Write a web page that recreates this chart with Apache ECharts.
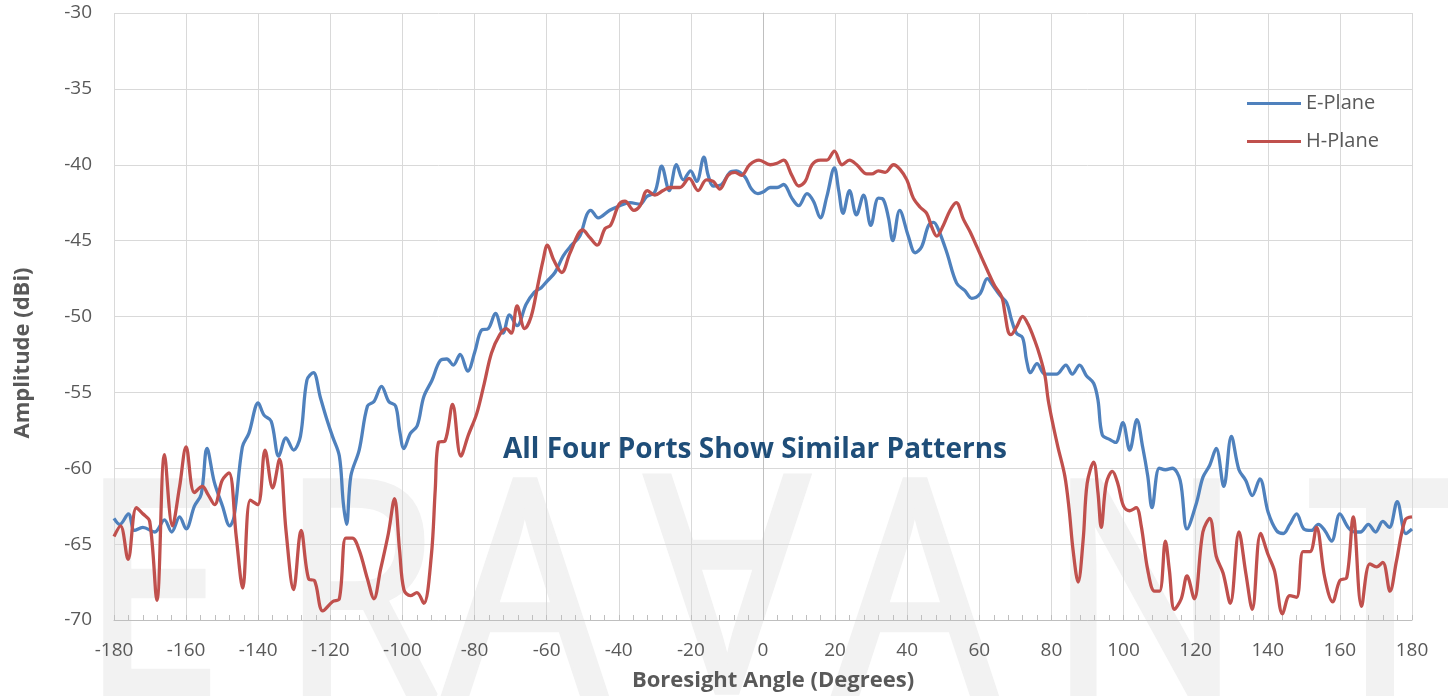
<!DOCTYPE html>
<html>
<head>
<meta charset="utf-8">
<script src="https://cdn.jsdelivr.net/npm/echarts@6/dist/echarts.min.js"></script>
<style>
html,body{margin:0;padding:0;background:#fff;}
#chart{width:1448px;height:696px;}
</style>
</head>
<body>
<div id="chart"></div>
<script>
// ---- data ----
var seriesNames = ['E-Plane', 'H-Plane'];
var xTicks = [-180,-160,-140,-120,-100,-80,-60,-40,-20,0,20,40,60,80,100,120,140,160,180];
var yTicks = [-70,-65,-60,-55,-50,-45,-40,-35,-30];

var ePlaneAngle = [-180,-178.4,-176,-174.3,-172,-168.7,-166,-164,-161.8,-160,-157.7,-155.8,-154.2,-152.2,-149.9,-147.9,-146.7,-144.4,-142.6,-140,-138.4,-136.4,-134.3,-132.3,-130.2,-128.3,-126.5,-124.7,-122.8,-121.2,-119.4,-117.5,-116.4,-115.5,-114.3,-112,-109.7,-107.9,-105.8,-103.8,-101.9,-100.8,-99.6,-97.8,-95.9,-94.1,-91.8,-89.5,-87.7,-85.9,-84,-81.9,-79.9,-78.1,-76.2,-74.2,-72.1,-70.3,-68.2,-65.7,-63.4,-61.5,-60,-57.7,-55.4,-53.1,-50.8,-48.9,-47.8,-45.7,-42.5,-39.7,-36.9,-34.1,-32.3,-30,-28.1,-26,-24,-22.1,-20.1,-18.4,-16.4,-15.2,-13.8,-11.5,-9.2,-7.4,-5,-3.2,-1.4,0,2,3.9,5.7,8,9.9,12.2,14,15.9,17.7,19.8,21,22.2,24,25.9,27.9,29.9,32,33.4,34.8,36,37.9,40.3,42.2,44,45.9,47.3,48.7,51,53.7,56,57.9,60.2,62.2,63.9,65.7,67.6,68.9,70.3,72,73.1,74.2,76,78.2,81.4,84,85.8,87.8,89.7,91.7,92.9,94.1,96.1,97.8,99.8,101.7,103.7,105.3,106.7,107.9,109.9,111.6,113.5,115.7,117.6,120.2,122,123.9,125.7,127.8,129.9,132,133.9,135.7,137.8,140.1,142.4,144.3,146.1,148,150,152.1,154,155.8,157.7,160,162.3,164.2,165.7,167.9,169.9,171.9,173.7,175.9,178.3,180];
var ePlaneAmp = [-63.3,-63.7,-63.0,-64.1,-63.9,-64.2,-63.4,-64.2,-63.2,-64.0,-62.5,-61.7,-58.7,-60.9,-62.5,-63.8,-63.2,-58.6,-57.7,-55.7,-56.5,-56.9,-59.2,-58.0,-58.8,-57.9,-54.2,-53.7,-55.3,-56.6,-57.9,-59.2,-62.3,-63.7,-60.5,-58.8,-55.9,-55.6,-54.6,-55.6,-55.9,-57.5,-58.7,-57.7,-57.2,-55.3,-54.2,-52.9,-52.8,-53.2,-52.5,-53.6,-52.3,-50.9,-50.8,-49.8,-51.1,-49.9,-50.6,-49.2,-48.4,-48.1,-47.7,-47.1,-46.0,-45.3,-44.7,-43.3,-43.0,-43.5,-43.0,-42.7,-42.5,-42.6,-42.1,-41.8,-40.1,-41.7,-40.0,-41.0,-40.4,-41.1,-39.5,-40.7,-41.4,-41.3,-40.5,-40.4,-40.8,-41.6,-41.9,-41.8,-41.5,-41.5,-41.3,-42.2,-42.7,-41.9,-42.4,-43.5,-42.1,-40.2,-41.7,-43.2,-41.7,-43.3,-42.0,-44.0,-42.2,-42.3,-43.5,-45.0,-43.0,-44.7,-45.8,-45.4,-44.0,-43.8,-44.3,-45.8,-47.8,-48.3,-48.8,-48.5,-47.5,-48.0,-48.6,-49.1,-50.2,-51.1,-51.4,-52.9,-53.7,-53.1,-53.8,-53.8,-53.2,-53.8,-53.2,-53.9,-54.4,-55.5,-57.8,-58.1,-58.3,-57.0,-58.8,-56.8,-58.6,-60.5,-62.6,-60.0,-60.1,-60.0,-60.8,-64.0,-62.3,-60.6,-59.8,-58.7,-61.2,-57.9,-60.1,-60.8,-61.8,-60.7,-62.9,-64.1,-64.3,-63.7,-63.0,-64.0,-64.1,-63.7,-64.1,-64.8,-63.0,-63.9,-64.2,-64.2,-63.7,-64.2,-63.5,-63.9,-62.2,-64.3,-64.0];

var hPlaneAngle = [-180,-178.2,-176.1,-173.8,-172,-170.1,-168.1,-166,-163.8,-161.8,-160,-157.7,-155.5,-154,-152.1,-150,-148.1,-146.1,-144.3,-142.2,-140.1,-138.1,-136,-134.1,-132.3,-130.2,-128.1,-126,-124.4,-122.1,-119.4,-117.5,-115.7,-113.9,-112,-109.7,-107.9,-106.1,-103.9,-102.2,-100.8,-99.6,-97.8,-96,-94.1,-92,-90.9,-90,-88.2,-86.1,-83.8,-81.7,-79.4,-77.3,-75.3,-73,-71.2,-69.8,-68.2,-66.1,-64.3,-62.5,-61,-59.8,-58,-55.8,-53.5,-50,-48,-46,-43.8,-42.3,-39.9,-38.3,-35.8,-34.1,-32.1,-30,-27.7,-25.7,-23.1,-20.5,-18,-15.7,-13.8,-12,-9.7,-7.8,-6,-3.7,-1.1,2,3.9,5.7,8,9.9,11.7,13.6,15.9,17.7,19.8,21.9,24,26,28.8,30.2,32,33.9,36.2,38,39.9,41.7,43.6,45.4,46.8,48.2,50,51.9,53.6,55.6,57.4,59.3,62.5,64.3,66.2,67.1,68,68.7,70.3,72,73.5,75.4,76.8,78.2,79.1,80.5,81.8,83.7,84.9,86,87.4,88.8,89.9,91.7,92.9,93.8,95.2,96.9,98.4,100,101.7,103.5,104.9,106.7,108.6,110,111.6,112.7,114.1,116,117.6,119.6,122,123.9,125.7,127.6,129.6,132,133.9,135.7,138,140.1,141.9,144.1,146.1,148,149.8,151.7,153.5,155.8,158,160,161.9,163.7,166,168.3,170.2,171.9,173.9,175.7,178.1,180];
var hPlaneAmp = [-64.5,-63.8,-66.0,-62.6,-63.0,-63.5,-68.7,-59.1,-63.8,-61.2,-58.6,-61.6,-61.2,-61.7,-62.4,-60.8,-60.3,-64.5,-67.9,-62.1,-62.4,-58.8,-61.3,-59.4,-64.1,-68.0,-64.1,-67.3,-67.4,-69.4,-68.8,-68.6,-64.6,-64.6,-65.4,-67.3,-68.6,-66.7,-64.3,-62.0,-65.4,-68.0,-68.4,-68.2,-68.9,-65.8,-61.4,-58.3,-58.2,-55.8,-59.2,-57.8,-56.4,-54.4,-52.4,-51.2,-50.8,-51.1,-49.3,-50.8,-50.0,-48.0,-46.3,-45.3,-46.3,-47.1,-45.8,-44.3,-44.8,-45.3,-44.2,-44.0,-42.6,-42.4,-43.0,-42.7,-41.7,-42.0,-41.7,-41.5,-41.5,-40.9,-41.7,-41.0,-41.1,-41.6,-40.7,-40.5,-40.7,-40.0,-39.7,-40.0,-39.9,-39.7,-40.7,-41.4,-41.1,-40.0,-39.7,-39.7,-39.1,-40.0,-39.7,-40.0,-40.6,-40.6,-40.4,-40.5,-40.0,-40.3,-41.0,-42.2,-42.8,-43.2,-44.1,-44.7,-44.0,-43.0,-42.5,-43.6,-44.4,-45.4,-47.1,-48.0,-48.7,-49.8,-51.0,-51.2,-50.7,-50.0,-50.5,-51.6,-52.6,-53.9,-55.5,-57.2,-58.6,-60.5,-62.7,-65.4,-67.5,-64.7,-61.0,-59.6,-61.6,-63.9,-61.0,-60.2,-61.0,-62.5,-62.8,-62.6,-63.8,-66.7,-68.1,-68.1,-64.8,-66.7,-69.3,-68.6,-67.1,-68.6,-64.2,-63.3,-65.8,-66.9,-68.9,-64.2,-66.9,-69.3,-64.3,-65.7,-66.8,-69.6,-68.4,-68.5,-65.5,-65.5,-63.9,-67.2,-68.8,-67.4,-67.2,-63.2,-69.1,-66.3,-66.5,-66.2,-68.1,-66.1,-63.4,-63.2];

var annotationText = 'All Four Ports Show Similar Patterns';
var xAxisTitle = 'Boresight Angle (Degrees)';
var yAxisTitle = 'Amplitude (dBi)';
var watermarkLetters = ['E','R','A','\u2200','A','N','T'];

// ---- build ----
function pairs(xs, ys){ var out=[]; for(var i=0;i<xs.length;i++) out.push([xs[i], ys[i]]); return out; }

var chart = echarts.init(document.getElementById('chart'), null, {renderer:'canvas'});
var labelFont = "'Open Sans', 'Noto Sans', sans-serif";

var wmX = [152, 360, 525, 727, 915, 1145, 1380];
var wmGraphics = watermarkLetters.map(function(ch, i){
  var isV = (ch === '\u2200');
  return {
    type:'text', z:-10, silent:true,
    x: wmX[i], y: isV ? 562 : 610,
    rotation: isV ? Math.PI : 0,
    scaleX: 0.85,
    style:{ text: isV ? 'A' : ch, fill:'#f2f2f2', stroke:'#f2f2f2', lineWidth:6,
      font:"normal 300px 'Noto Sans', sans-serif", align:'center', verticalAlign:'middle' }
  };
});

var option = {
  backgroundColor:'#ffffff',
  animation:false,
  grid:{ left:114, right:36, top:13, bottom:76, containLabel:false },
  legend:{
    orient:'vertical', left:1247, top:93, padding:0,
    itemWidth:54, itemHeight:3, itemGap:17,
    icon:'rect',
    textStyle:{ fontSize:20, color:'#595959', fontFamily:labelFont, lineHeight:21 },
    data: seriesNames
  },
  xAxis:{
    type:'value', min:-180, max:180, interval:20,
    axisLine:{ show:true, lineStyle:{ color:'#bfbfbf', width:1 } },
    axisTick:{ show:true, inside:true, length:5, lineStyle:{ color:'#bfbfbf' } },
    minorTick:{ show:true, splitNumber:5, length:5, lineStyle:{ color:'#bfbfbf' } },
    splitLine:{ show:true, lineStyle:{ color:'#d9d9d9', width:1 } },
    axisLabel:{ fontSize:19, color:'#595959', fontFamily:labelFont, margin:21,
      formatter:function(v){ return xTicks.indexOf(v)>=0 ? String(v) : ''; } }
  },
  yAxis:{
    type:'value', min:-70, max:-30, interval:5,
    axisLine:{ show:true, lineStyle:{ color:'#bfbfbf', width:1 } },
    axisTick:{ show:false },
    splitLine:{ show:true, lineStyle:{ color:'#d9d9d9', width:1 } },
    axisLabel:{ fontSize:19, color:'#595959', fontFamily:labelFont, margin:22,
      formatter:function(v){ return yTicks.indexOf(v)>=0 ? String(v) : ''; } }
  },
  series:[
    { name:seriesNames[0], type:'line', data:pairs(ePlaneAngle, ePlaneAmp), showSymbol:false, smooth:0.35,
      lineStyle:{ color:'#4f81bd', width:3.3 }, itemStyle:{ color:'#4f81bd' }, z:3 },
    { name:seriesNames[1], type:'line', data:pairs(hPlaneAngle, hPlaneAmp), showSymbol:false, smooth:0.35,
      lineStyle:{ color:'#c0504d', width:3.3 }, itemStyle:{ color:'#c0504d' }, z:4 }
  ],
  graphic: wmGraphics.concat([
    { type:'text', z:10, x:755, y:450,
      style:{ text:annotationText, fill:'#1f4e79', font:"bold 28px 'Open Sans', sans-serif", align:'center', verticalAlign:'middle' } },
    { type:'text', z:10, x:773, y:681,
      style:{ text:xAxisTitle, fill:'#595959', font:"bold 22px 'Open Sans', sans-serif", align:'center', verticalAlign:'middle' } },
    { type:'text', z:10, x:23, y:353, rotation:Math.PI/2,
      style:{ text:yAxisTitle, fill:'#595959', font:"bold 22px 'Open Sans', sans-serif", align:'center', verticalAlign:'middle' } }
  ])
};
chart.setOption(option);
</script>
</body>
</html>
